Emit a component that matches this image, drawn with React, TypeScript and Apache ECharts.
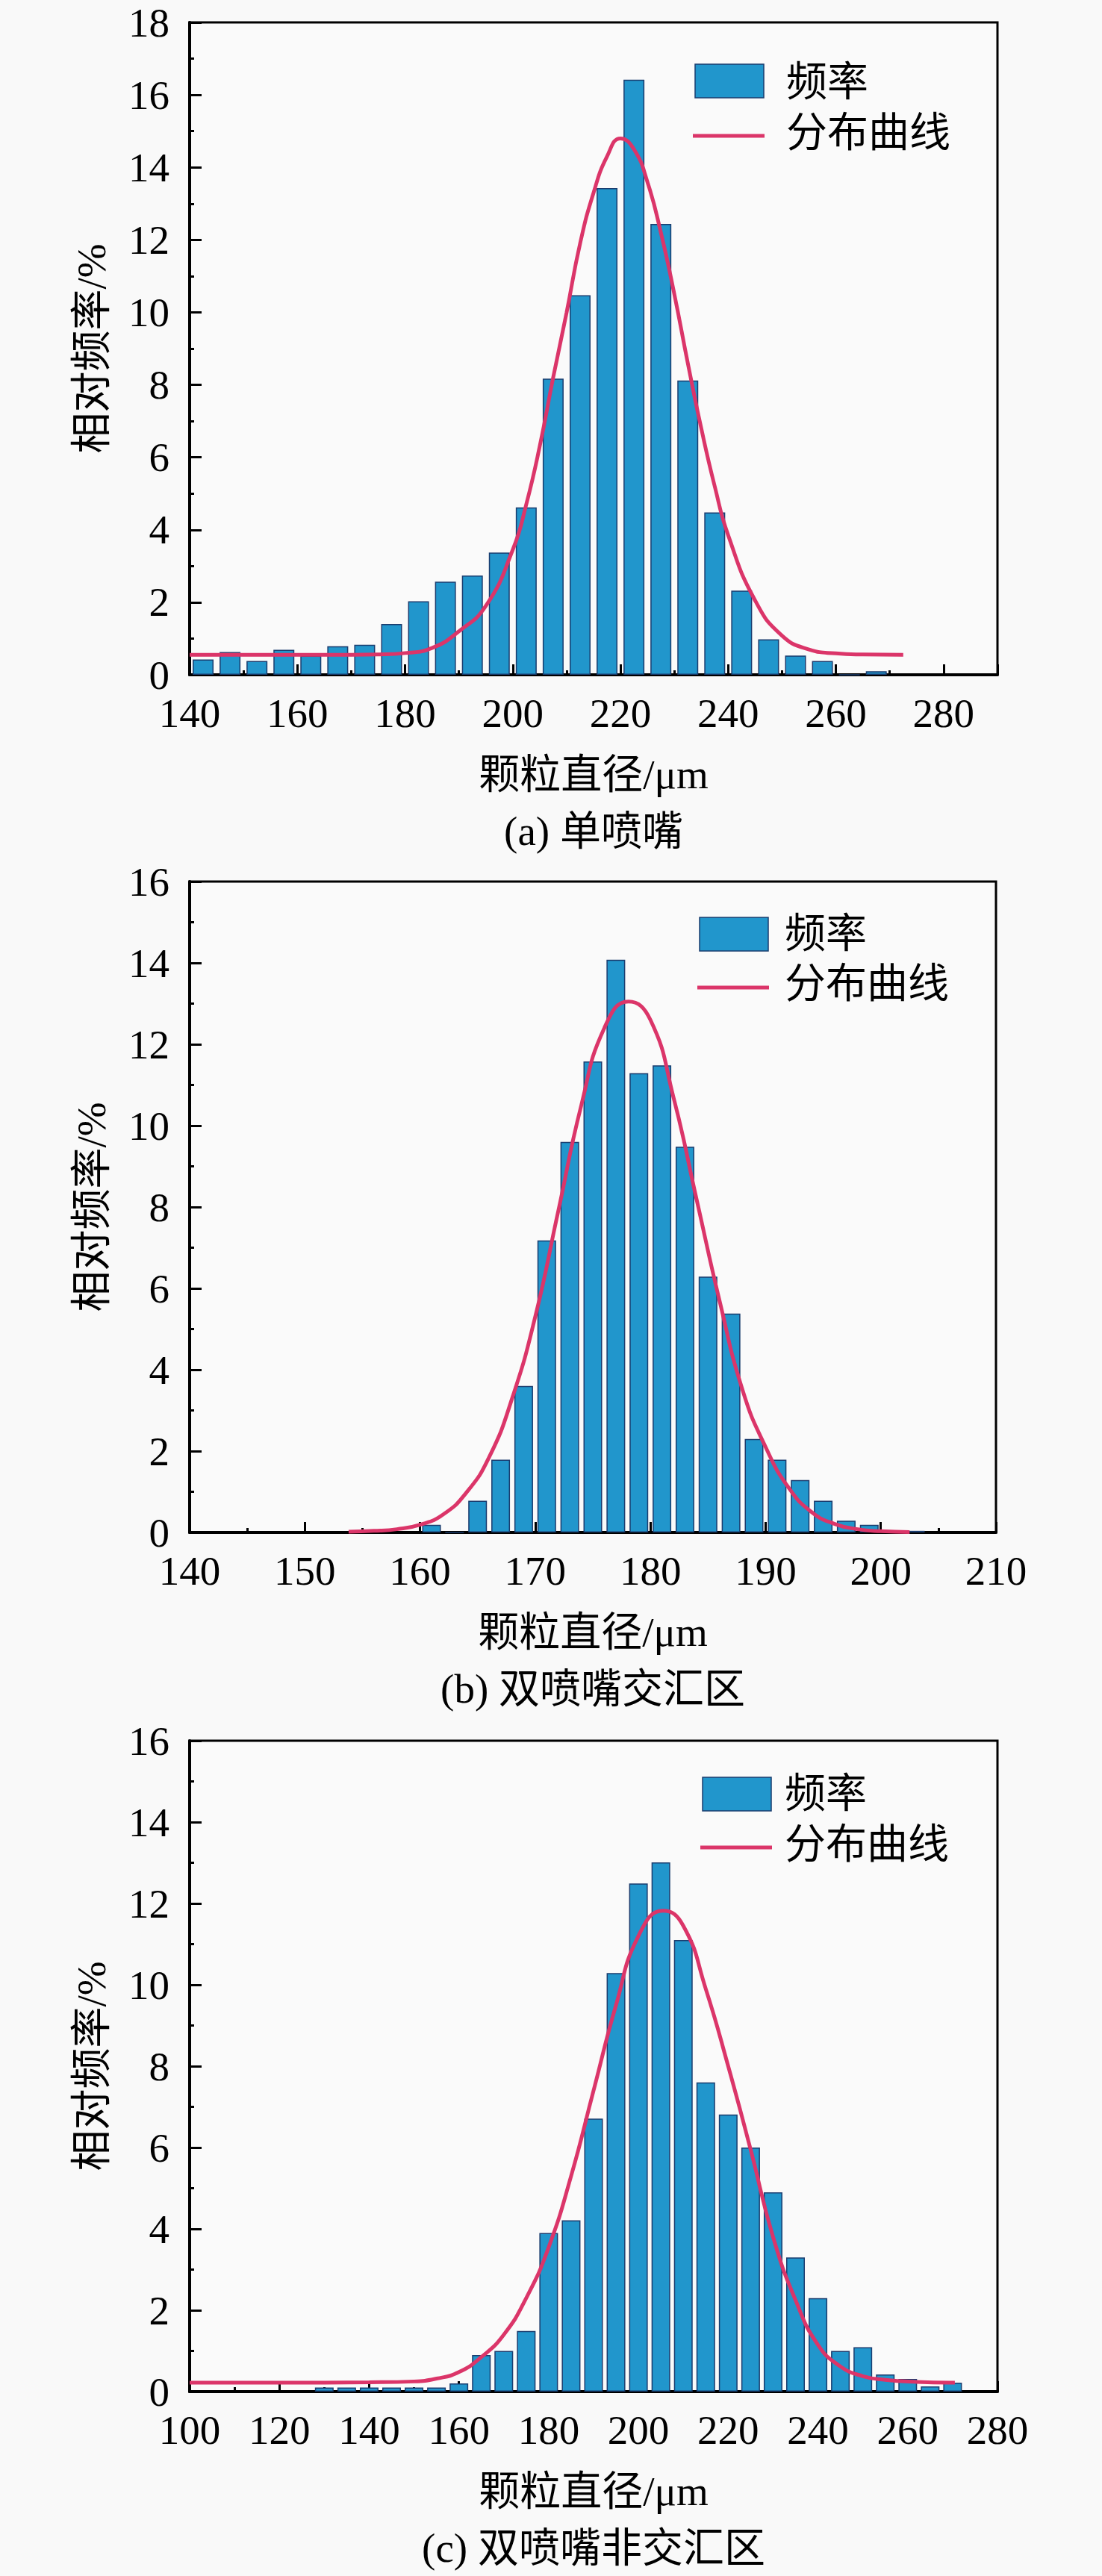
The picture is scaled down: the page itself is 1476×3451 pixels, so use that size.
import React, { useEffect, useRef } from "react";
import * as echarts from "echarts";

// ---------- data ----------
// (a) 单喷嘴
const binCentersA = [142.5, 147.5, 152.5, 157.5, 162.5, 167.5, 172.5, 177.5, 182.5, 187.5, 192.5, 197.5, 202.5, 207.5, 212.5, 217.5, 222.5, 227.5, 232.5, 237.5, 242.5, 247.5, 252.5, 257.5, 262.5, 267.5];
const freqA = [0.42, 0.63, 0.38, 0.69, 0.53, 0.79, 0.83, 1.4, 2.03, 2.57, 2.74, 3.37, 4.62, 8.17, 10.47, 13.43, 16.42, 12.44, 8.12, 4.48, 2.32, 0.98, 0.53, 0.38, 0, 0.1];
const curveXA = [140, 150, 160, 170, 175, 180, 185, 190, 195, 200, 202.5, 205, 207.5, 210, 212.5, 215, 217.5, 220, 222.5, 225, 227.5, 230, 232.5, 235, 237.5, 240, 245, 250, 255, 260, 265, 272.5];
const curveYA = [0.55, 0.55, 0.55, 0.55, 0.56, 0.6, 0.74, 1.2, 1.9, 3.45, 4.7, 6.3, 8.2, 10.0, 11.9, 13.3, 14.3, 14.8, 14.5, 13.6, 12.2, 10.5, 8.6, 6.8, 5.2, 3.85, 2.05, 1.08, 0.7, 0.59, 0.56, 0.55];

// (b) 双喷嘴交汇区
const binCentersB = [161, 163, 165, 167, 169, 171, 173, 175, 177, 179, 181, 183, 185, 187, 189, 191, 193, 195, 197, 199, 201, 203];
const freqB = [0.19, 0, 0.78, 1.79, 3.6, 7.18, 9.6, 11.58, 14.08, 11.29, 11.48, 9.48, 6.29, 5.38, 2.3, 1.79, 1.29, 0.78, 0.29, 0.19, 0.02, 0.04];
const curveXB = [153.8, 156, 158, 160, 162, 164, 166, 168, 170, 172, 174, 176, 178.1, 180, 182, 184, 186, 188, 190, 192, 194, 196, 198, 200, 202.5];
const curveYB = [0.02, 0.04, 0.08, 0.19, 0.44, 0.97, 1.85, 3.3, 5.3, 7.9, 10.5, 12.4, 13.05, 12.6, 10.7, 8.2, 5.7, 3.5, 2.1, 1.1, 0.5, 0.21, 0.08, 0.03, 0.01];

// (c) 双喷嘴非交汇区
const binCentersC = [130, 135, 140, 145, 150, 155, 160, 165, 170, 175, 180, 185, 190, 195, 200, 205, 210, 215, 220, 225, 230, 235, 240, 245, 250, 255, 260, 265, 270];
const freqC = [0.1, 0.1, 0.1, 0.1, 0.1, 0.1, 0.2, 0.9, 1.0, 1.49, 3.9, 4.21, 6.71, 10.29, 12.49, 13.01, 11.1, 7.6, 6.81, 6.0, 4.9, 3.3, 2.3, 1.0, 1.09, 0.42, 0.31, 0.13, 0.22];
const curveXC = [100, 120, 140, 150, 155, 160, 165, 170, 175, 180, 185, 190, 195, 200, 205.5, 210, 215, 220, 225, 230, 235, 240, 245, 250, 255, 262, 270.5];
const curveYC = [0.22, 0.22, 0.23, 0.25, 0.32, 0.48, 0.85, 1.4, 2.3, 3.55, 5.3, 7.4, 9.5, 11.2, 11.82, 11.45, 9.9, 8.0, 5.95, 3.8, 2.25, 1.15, 0.62, 0.38, 0.29, 0.24, 0.22];

// axes
const xRanges = [
  { min: 140, max: 290, interval: 20 },
  { min: 140, max: 210, interval: 10 },
  { min: 100, max: 280, interval: 20 },
];
const yMaxes = [18, 16, 16];
const captions = ["(a) 单喷嘴", "(b) 双喷嘴交汇区", "(c) 双喷嘴非交汇区"];
const xName = "颗粒直径/μm";
const yName = "相对频率/%";
const legendNames = ["频率", "分布曲线"];

const FONT = "'Times New Roman', 'Liberation Serif', 'Noto Sans CJK SC', serif";
const BAR_FILL = "#2196CC";
const BAR_EDGE = "#1A3C6E";
const CURVE = "#DB3569";

const gridBoxes = [
  { left: 254, top: 30, width: 1082, height: 874, barW: 28 },
  { left: 254, top: 1181, width: 1080, height: 872, barW: 25 },
  { left: 254, top: 2332, width: 1082, height: 872, barW: 25 },
];
const legendPos = [
  { rx: 931, ry: 86, t1: 109, ly: 182, t2: 177, tx: 1053 },
  { rx: 937, ry: 1229, t1: 1250, ly: 1323, t2: 1317, tx: 1051 },
  { rx: 941, ry: 2381, t1: 2402, ly: 2475, t2: 2470, tx: 1051 },
];

const zip = (xs: number[], ys: number[]) => xs.map((x, i) => [x, ys[i]]);

export default function App() {
  const ref = useRef<HTMLDivElement>(null);
  useEffect(() => {
    document.body.style.margin = "0";
    document.body.style.background = "#f9f9f9";
    if (!ref.current) return;
    const chart = echarts.init(ref.current, undefined, { renderer: "svg" });

    const bins = [zip(binCentersA, freqA), zip(binCentersB, freqB), zip(binCentersC, freqC)];
    const curves = [zip(curveXA, curveYA), zip(curveXB, curveYB), zip(curveXC, curveYC)];

    const grid = gridBoxes.map((g) => ({
      left: g.left,
      top: g.top,
      width: g.width,
      height: g.height,
      show: true,
      borderColor: "#000",
      borderWidth: 3,
      backgroundColor: "#fafafa",
    }));

    const xAxis = xRanges.map((r, i) => ({
      gridIndex: i,
      type: "value",
      min: r.min,
      max: r.max,
      interval: r.interval,
      axisLine: { show: true, onZero: false, lineStyle: { color: "#000", width: 4 } },
      axisTick: { show: true, inside: true, length: 14, lineStyle: { color: "#000", width: 3 } },
      minorTick: { show: true, splitNumber: 2, length: 6, lineStyle: { color: "#000", width: 3 } },
      splitLine: { show: false },
      axisLabel: {
        fontSize: 55,
        color: "#000",
        fontFamily: FONT,
        margin: 24,
        showMaxLabel: i === 0 ? false : true,
      },
      name: xName,
      nameLocation: "middle",
      nameGap: 106,
      nameTextStyle: { fontSize: 55, color: "#000", fontFamily: FONT },
    }));

    const yAxis = yMaxes.map((m, i) => ({
      gridIndex: i,
      type: "value",
      min: 0,
      max: m,
      interval: 2,
      axisLine: { show: true, onZero: false, lineStyle: { color: "#000", width: 4 } },
      axisTick: { show: true, inside: true, length: 16, lineStyle: { color: "#000", width: 3 } },
      minorTick: { show: true, splitNumber: 2, length: 6, lineStyle: { color: "#000", width: 3 } },
      splitLine: { show: false },
      axisLabel: { fontSize: 55, color: "#000", fontFamily: FONT, margin: 27 },
      name: yName,
      nameLocation: "middle",
      nameGap: 104,
      nameRotate: 90,
      nameTextStyle: { fontSize: 55, color: "#000", fontFamily: FONT },
    }));

    const series: any[] = [];
    for (let i = 0; i < 3; i++) {
      series.push({
        type: "bar",
        name: legendNames[0],
        xAxisIndex: i,
        yAxisIndex: i,
        data: bins[i],
        barWidth: gridBoxes[i].barW,
        itemStyle: { color: BAR_FILL, borderColor: BAR_EDGE, borderWidth: 1.5 },
        z: 2,
      });
      series.push({
        type: "line",
        name: legendNames[1],
        xAxisIndex: i,
        yAxisIndex: i,
        data: curves[i],
        smooth: 0.5,
        symbol: "none",
        showSymbol: false,
        lineStyle: { color: CURVE, width: 5 },
        z: 3,
      });
    }

    const graphic: any[] = [];
    gridBoxes.forEach((g, i) => {
      const cx = g.left + g.width / 2;
      graphic.push({
        type: "text",
        x: cx,
        y: g.top + g.height + 209,
        style: {
          text: captions[i],
          fontSize: 55,
          fontFamily: FONT,
          fill: "#000",
          align: "center",
          verticalAlign: "middle",
          textAlign: "center",
          textVerticalAlign: "middle",
        },
      });
      const L = legendPos[i];
      graphic.push({
        type: "rect",
        shape: { x: L.rx, y: L.ry, width: 92, height: 45 },
        style: { fill: BAR_FILL, stroke: BAR_EDGE, lineWidth: 1.5 },
        z: 10,
      });
      graphic.push({
        type: "line",
        shape: { x1: L.rx - 3, y1: L.ly, x2: L.rx + 93, y2: L.ly },
        style: { stroke: CURVE, lineWidth: 5 },
        z: 10,
      });
      graphic.push({
        type: "text",
        x: L.tx,
        y: L.t1,
        style: {
          text: legendNames[0],
          fontSize: 55,
          fontFamily: FONT,
          fill: "#000",
          align: "left",
          verticalAlign: "middle",
          textAlign: "left",
          textVerticalAlign: "middle",
        },
        z: 10,
      });
      graphic.push({
        type: "text",
        x: L.tx,
        y: L.t2,
        style: {
          text: legendNames[1],
          fontSize: 55,
          fontFamily: FONT,
          fill: "#000",
          align: "left",
          verticalAlign: "middle",
          textAlign: "left",
          textVerticalAlign: "middle",
        },
        z: 10,
      });
    });

    chart.setOption({
      animation: false,
      backgroundColor: "#f9f9f9",
      grid,
      xAxis,
      yAxis,
      series,
      graphic,
    } as any);

    return () => chart.dispose();
  }, []);

  return <div ref={ref} style={{ width: 1476, height: 3451 }} />;
}
